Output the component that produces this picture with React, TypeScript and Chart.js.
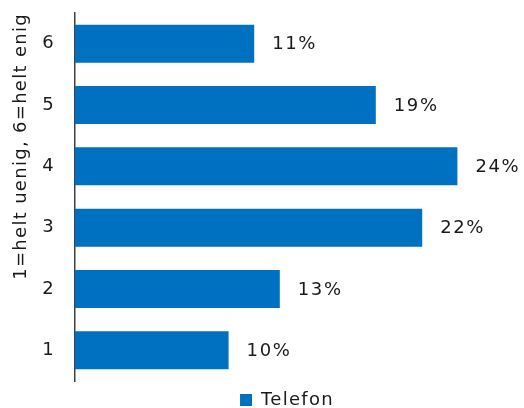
import React, { useEffect, useRef } from "react";
import { Chart, registerables } from "chart.js";

Chart.register(...registerables);

const categories = ["6", "5", "4", "3", "2", "1"];
const seriesName = "Telefon";
const values = [11.2, 18.8, 23.9, 21.7, 12.8, 9.6];
const axisTitle = "1=helt uenig, 6=helt enig";

const FONT = "'DejaVu Sans', sans-serif";
const TEXT = "#1a1a1a";
const BLUE = "#0070C0";
const SPACING = "1.3px";

const spacingPlugin = {
  id: "letterSpacing",
  beforeLayout(chart: any) {
    chart.ctx.letterSpacing = SPACING;
  },
  beforeDraw(chart: any) {
    chart.ctx.letterSpacing = SPACING;
  },
};

const labelPlugin = {
  id: "valueLabels",
  afterDatasetsDraw(chart: any) {
    const ctx = chart.ctx;
    const meta = chart.getDatasetMeta(0);
    ctx.save();
    ctx.letterSpacing = "1.6px";
    ctx.font = `18px ${FONT}`;
    ctx.fillStyle = TEXT;
    ctx.textAlign = "left";
    ctx.textBaseline = "middle";
    meta.data.forEach((bar: any, i: number) => {
      const v = chart.data.datasets[0].data[i] as number;
      ctx.fillText(`${Math.round(v)}%`, bar.x + 18, bar.y + 1);
    });
    ctx.restore();
  },
};

export default function App() {
  const ref = useRef<HTMLCanvasElement | null>(null);
  useEffect(() => {
    if (!ref.current) return;
    const chart = new Chart(ref.current, {
      type: "bar",
      data: {
        labels: categories,
        datasets: [
          {
            label: seriesName,
            data: values,
            backgroundColor: BLUE,
            borderWidth: 0,
            barPercentage: 0.62,
            categoryPercentage: 1,
          },
        ],
      },
      options: {
        indexAxis: "y",
        animation: false,
        responsive: true,
        maintainAspectRatio: false,
        layout: { autoPadding: false, padding: { top: 13, right: 25, left: 0, bottom: -11 } },
        plugins: {
          tooltip: { enabled: false },
          legend: {
            position: "bottom",
            fullSize: false,
            labels: {
              font: { family: FONT, size: 18 },
              color: TEXT,
              boxWidth: 12,
              boxHeight: 12,
              padding: 10,
            },
          },
        },
        scales: {
          x: {
            display: false,
            min: 0,
            max: 26.5,
          },
          y: {
            afterFit: (s: any) => {
              s.width = 75;
              s.paddingTop = 0;
              s.paddingBottom = 0;
            },
            grid: { display: true, color: "transparent", drawTicks: false },
            border: { display: true, color: "#404040", width: 1.5 },
            ticks: {
              font: { family: FONT, size: 18 },
              color: TEXT,
              padding: 20,
            },
            title: {
              display: true,
              text: axisTitle,
              align: "end",
              font: { family: FONT, size: 18 },
              color: TEXT,
              padding: { top: 11, bottom: 10 },
            },
          },
        },
      },
      plugins: [spacingPlugin, labelPlugin],
    });
    return () => chart.destroy();
  }, []);
  return (
    <div style={{ position: "fixed", left: 0, top: 0, width: 524, height: 408, background: "#fff" }}>
      <canvas ref={ref} />
    </div>
  );
}
